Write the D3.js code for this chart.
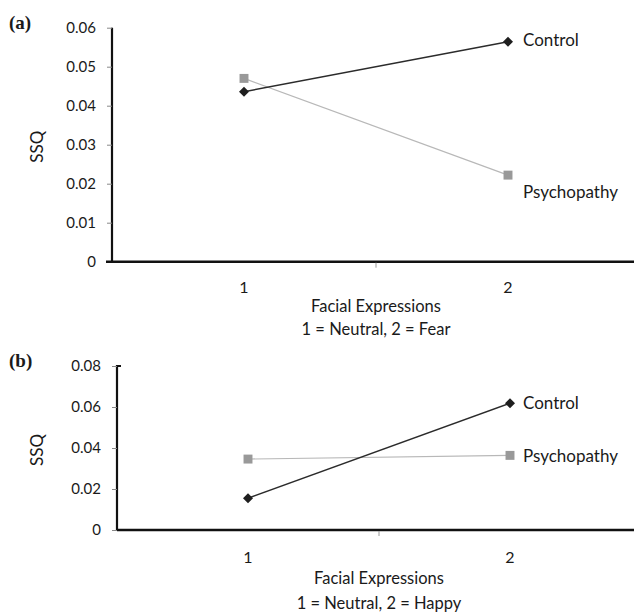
<!DOCTYPE html>
<html>
<head>
<meta charset="utf-8">
<script src="https://cdn.jsdelivr.net/npm/d3@7"></script>
<style>
  body { margin: 0; background: #fff; }
  svg { display: block; }
  text { font-family: Lato, "Open Sans", sans-serif; fill: #1a1a1a; }
  .panel-tag { font-family: "Liberation Serif", serif; font-weight: bold; font-size: 19px; }
</style>
</head>
<body>
<main></main>
<script>
const width = 634;
const height = 613;

// values
const categories = ['1', '2'];
const seriesNames = ['Control', 'Psychopathy'];
const fearControl = [0.0436, 0.0564];
const fearPsychopathy = [0.047, 0.0222];
const happyControl = [0.0155, 0.0618];
const happyPsychopathy = [0.0346, 0.0364];
const fearTicks = [0, 0.01, 0.02, 0.03, 0.04, 0.05, 0.06];
const happyTicks = [0, 0.02, 0.04, 0.06, 0.08];
const fearTitle = ['Facial Expressions', '1 = Neutral, 2 = Fear'];
const happyTitle = ['Facial Expressions', '1 = Neutral, 2 = Happy'];

const svg = d3.select('main')
              .append('svg')
              .attr('width', width)
              .attr('height', height);

const fmt = (d) => d === 0 ? '0' : d3.format('.2f')(d);

const drawPanel = (cfg) => {
    const g = svg.append('g');

    const yScale = d3.scaleLinear().domain([0, cfg.yMax]).range([cfg.bottom, cfg.top]);
    const xBand = d3.scaleBand().domain(categories).range([cfg.left, cfg.right]);
    const xScale = d3.scalePoint().domain(categories).range([cfg.left, cfg.right]).padding(0.5);

    // panel tag
    g.append('text')
     .attr('class', 'panel-tag')
     .attr('x', 9)
     .attr('y', cfg.top + 1)
     .text(cfg.tag);

    // y axis
    const yAxis = g.append('g')
     .attr('transform', 'translate(' + cfg.left + ',0)')
     .call(d3.axisLeft(yScale).tickValues(cfg.ticks).tickFormat(fmt).tickSize(5).tickPadding(11));
    yAxis.select('.domain').attr('stroke', '#111').attr('stroke-width', 2.2)
         .attr('d', 'M' + (cfg.hook ? 4 : 0) + ',' + cfg.top + 'H0V' + cfg.bottom);
    yAxis.selectAll('.tick line').attr('stroke', '#888').attr('stroke-width', 1);
    yAxis.selectAll('.tick text').style('font-size', '15px').attr('fill', '#1a1a1a');

    // x axis
    const xAxis = g.append('g')
     .attr('transform', 'translate(0,' + cfg.bottom + ')');
    xAxis.append('line')
         .attr('x1', cfg.left - cfg.overhang).attr('x2', width)
         .attr('stroke', '#111').attr('stroke-width', 2.4);
    xAxis.selectAll('.sep')
         .data(categories.slice(1))
         .enter()
         .append('line')
         .attr('class', 'sep')
         .attr('x1', (d) => xBand(d)).attr('x2', (d) => xBand(d))
         .attr('y1', 1).attr('y2', 6)
         .attr('stroke', '#999').attr('stroke-width', 1);
    xAxis.selectAll('.cat')
         .data(categories)
         .enter()
         .append('text')
         .attr('class', 'cat')
         .attr('x', (d) => xScale(d))
         .attr('y', cfg.catDy)
         .attr('text-anchor', 'middle')
         .style('font-size', '16px')
         .text((d) => d);

    // titles
    g.append('text')
     .attr('transform', 'translate(43,' + ((cfg.top + cfg.bottom) / 2 + 2) + ') rotate(-90)')
     .attr('text-anchor', 'middle')
     .style('font-size', '17px')
     .text('SSQ');
    g.selectAll('.xtitle')
     .data(cfg.xTitle)
     .enter()
     .append('text')
     .attr('class', 'xtitle')
     .attr('x', xBand(categories[1]))
     .attr('y', (d, i) => cfg.bottom + cfg.titleDy + i * cfg.titleGap)
     .attr('text-anchor', 'middle')
     .style('font-size', '16.5px')
     .text((d) => d);

    const line = d3.line().x((d, i) => xScale(categories[i])).y((d) => yScale(d));

    // psychopathy series
    g.append('path')
     .attr('d', line(cfg.psy))
     .attr('fill', 'none')
     .attr('stroke', '#b8b8b8')
     .attr('stroke-width', 1.2);
    // control series
    g.append('path')
     .attr('d', line(cfg.control))
     .attr('fill', 'none')
     .attr('stroke', '#2b2b2b')
     .attr('stroke-width', 1.5);

    g.selectAll('.sq')
     .data(cfg.psy)
     .enter()
     .append('path')
     .attr('class', 'sq')
     .attr('d', d3.symbol(d3.symbolSquare, 80))
     .attr('transform', (d, i) => 'translate(' + xScale(categories[i]) + ',' + yScale(d) + ')')
     .attr('fill', '#999');
    g.selectAll('.dm')
     .data(cfg.control)
     .enter()
     .append('path')
     .attr('class', 'dm')
     .attr('d', d3.symbol(d3.symbolSquare, 50))
     .attr('transform', (d, i) => 'translate(' + xScale(categories[i]) + ',' + yScale(d) + ') rotate(45)')
     .attr('fill', '#1e1e1e');

    // end labels
    const last = categories.length - 1;
    g.append('text')
     .attr('x', xScale(categories[last]) + cfg.labelDx)
     .attr('y', yScale(cfg.control[last]) + cfg.controlDy)
     .attr('dy', '0.35em')
     .style('font-size', '17px')
     .text(seriesNames[0]);
    g.append('text')
     .attr('x', xScale(categories[last]) + cfg.labelDx)
     .attr('y', yScale(cfg.psy[last]) + cfg.psyDy)
     .attr('dy', '0.35em')
     .style('font-size', '17px')
     .text(seriesNames[1]);
};

drawPanel({
    tag: '(a)', left: 112, right: 640, top: 27.7, bottom: 261.7, yMax: 0.06,
    ticks: fearTicks, control: fearControl, psy: fearPsychopathy, xTitle: fearTitle,
    overhang: 6, hook: false, catDy: 31, titleDy: 50, titleGap: 23,
    labelDx: 15, controlDy: -2, psyDy: 17
});

drawPanel({
    tag: '(b)', left: 117, right: 641, top: 366, bottom: 530, yMax: 0.08,
    ticks: happyTicks, control: happyControl, psy: happyPsychopathy, xTitle: happyTitle,
    overhang: 0, hook: true, catDy: 33, titleDy: 54, titleGap: 25,
    labelDx: 13, controlDy: 0, psyDy: 1
});
</script>
</body>
</html>
